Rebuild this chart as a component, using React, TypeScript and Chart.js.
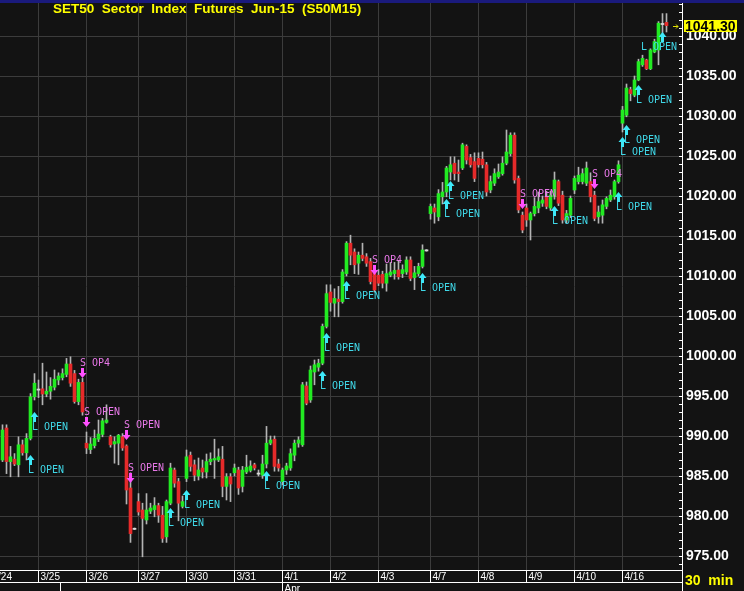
import React, { useEffect, useRef } from "react";
import { Chart, registerables } from "chart.js";
Chart.register(...registerables);

const opens = [
  987.0, 991.0, 986.8, 987.1, 986.4, 988.9, 987.9, 989.7, 994.9, 995.8,
  995.9, 995.25, 995.6, 996.1, 997.0, 997.3, 997.7, 999.0, 997.8, 994.3,
  996.7, 989.1, 988.3, 988.8, 989.6, 990.2, 991.7, 989.9, 989.0, 989.1,
  989.9, 988.75, 983.5, 978.4, 981.8, 980.75, 979.5, 980.6, 980.8, 981.3,
  980.1, 977.4, 981.6, 985.75, 984.3, 981.2, 984.7, 987.6, 986.4, 985.0,
  986.0, 985.5, 986.8, 987.0, 987.0, 987.1, 983.7, 984.9, 985.4, 985.75,
  983.7, 985.5, 985.7, 986.4, 985.3, 985.1, 986.5, 989.1, 989.6, 986.5,
  984.3, 985.75, 986.0, 987.6, 989.1, 988.9, 996.25, 994.5, 998.0, 998.6,
  999.1, 1003.7, 1008.0, 1006.6, 1007.1, 1006.8, 1010.3, 1014.1, 1013.0, 1011.6,
  1012.6, 1012.4, 1011.8, 1010.3, 1010.1, 1010.2, 1009.1, 1010.1, 1010.3, 1010.75,
  1010.3, 1010.5, 1012.0, 1009.8, 1010.3, 1011.2, 1013.2, 1017.8, 1018.5, 1017.4,
  1019.9, 1020.5, 1023.0, 1024.1, 1023.0, 1023.5, 1026.2, 1024.8, 1024.3, 1024.7,
  1024.6, 1023.9, 1020.75, 1021.6, 1022.4, 1022.8, 1024.1, 1025.3, 1027.6, 1022.2,
  1017.6, 1018.5, 1017.0, 1017.8, 1018.5, 1019.1, 1019.9, 1018.5, 1019.9, 1021.8,
  1020.1, 1017.0, 1017.6, 1020.75, 1021.8, 1021.8, 1021.6, 1021.8, 1020.1, 1017.4,
  1017.6, 1018.7, 1019.5, 1019.9, 1021.8, 1029.1, 1030.1, 1033.3, 1032.6, 1034.5,
  1036.4, 1037.0, 1035.9, 1038.0, 1038.25, 1041.5, 1041.7,
];
const highs = [
  991.4, 991.4, 988.7, 987.8, 989.9, 989.5, 990.3, 995.3, 997.8, 997.0,
  999.1, 998.0, 997.3, 998.25, 997.9, 998.4, 999.7, 999.9, 998.2, 997.1,
  997.2, 990.5, 989.8, 990.75, 992.0, 992.2, 993.9, 990.1, 989.9, 990.2,
  990.3, 988.9, 985.4, 978.5, 982.8, 981.6, 982.8, 981.6, 982.3, 981.6,
  981.2, 982.0, 986.6, 986.0, 984.7, 982.5, 988.25, 988.0, 987.0, 987.25,
  987.0, 987.75, 987.9, 989.6, 988.4, 988.7, 985.3, 985.3, 986.5, 986.1,
  986.2, 987.6, 986.9, 986.6, 985.75, 987.6, 991.2, 990.0, 990.0, 987.1,
  986.0, 986.6, 988.4, 989.5, 989.9, 996.7, 996.75, 998.75, 999.5, 999.6,
  1004.0, 1008.9, 1008.9, 1008.4, 1008.7, 1010.8, 1014.3, 1015.1, 1013.4, 1013.0,
  1014.1, 1012.8, 1012.2, 1010.8, 1010.8, 1010.6, 1011.5, 1011.7, 1011.7, 1011.9,
  1011.4, 1012.4, 1012.4, 1011.2, 1011.6, 1013.9, 1013.3, 1019.0, 1019.0, 1020.8,
  1021.7, 1023.7, 1024.9, 1024.9, 1024.5, 1026.6, 1026.4, 1025.2, 1025.4, 1025.4,
  1025.5, 1024.2, 1022.5, 1023.4, 1024.0, 1024.9, 1028.25, 1027.9, 1027.9, 1022.5,
  1018.0, 1019.0, 1018.0, 1019.8, 1020.5, 1020.0, 1020.6, 1020.6, 1023.0, 1022.0,
  1020.6, 1018.2, 1020.0, 1022.5, 1023.6, 1023.4, 1024.25, 1022.9, 1020.6, 1018.75,
  1019.5, 1019.9, 1020.75, 1022.0, 1024.4, 1031.2, 1034.0, 1033.6, 1035.0, 1037.1,
  1037.6, 1037.1, 1038.4, 1039.6, 1041.8, 1042.8, 1042.8,
];
const lows = [
  986.8, 985.3, 984.9, 986.3, 984.9, 987.6, 987.0, 989.5, 994.5, 994.8,
  993.9, 994.9, 994.6, 995.75, 996.4, 997.0, 997.4, 996.2, 994.1, 993.9,
  992.6, 987.8, 987.8, 988.5, 989.3, 989.9, 991.6, 988.6, 986.6, 986.4,
  988.2, 981.5, 976.7, 978.3, 980.1, 974.9, 979.0, 980.3, 979.9, 979.2,
  976.7, 976.7, 981.4, 983.6, 979.4, 981.0, 984.3, 985.6, 984.4, 984.5,
  984.75, 984.75, 986.4, 984.7, 986.8, 982.4, 982.0, 981.8, 985.0, 982.7,
  983.0, 985.3, 985.5, 985.75, 985.0, 984.7, 986.0, 988.9, 985.6, 985.6,
  983.9, 985.2, 985.7, 986.9, 988.6, 988.7, 993.9, 994.2, 996.4, 998.1,
  998.9, 1003.5, 1005.6, 1004.9, 1004.9, 1006.6, 1010.0, 1011.4, 1010.3, 1010.2,
  1011.9, 1011.2, 1009.0, 1008.0, 1008.8, 1008.5, 1008.1, 1009.9, 1009.6, 1009.6,
  1009.8, 1010.2, 1009.4, 1008.3, 1010.0, 1011.0, 1013.1, 1017.1, 1016.6, 1016.9,
  1019.0, 1019.9, 1022.0, 1022.0, 1021.8, 1023.3, 1024.0, 1023.6, 1021.8, 1023.6,
  1023.5, 1020.0, 1020.4, 1021.3, 1022.2, 1022.6, 1023.9, 1025.0, 1021.6, 1017.9,
  1015.4, 1016.2, 1014.5, 1017.5, 1017.9, 1018.7, 1018.4, 1018.2, 1019.6, 1018.8,
  1016.6, 1016.6, 1017.3, 1020.3, 1021.5, 1021.5, 1021.3, 1019.25, 1016.9, 1016.6,
  1016.6, 1018.4, 1019.3, 1019.6, 1021.6, 1028.0, 1029.9, 1031.9, 1032.4, 1034.4,
  1036.2, 1035.8, 1035.8, 1037.9, 1036.4, 1040.3, 1040.5,
];
const closes = [
  990.75, 986.8, 987.4, 986.5, 988.9, 987.9, 989.7, 994.9, 996.6, 995.8,
  995.25, 995.6, 996.2, 997.1, 997.5, 997.8, 999.0, 996.6, 994.3, 996.7,
  993.0, 988.5, 989.0, 989.7, 990.25, 991.9, 992.0, 988.9, 989.3, 990.1,
  988.5, 983.25, 977.8, 978.4, 980.5, 979.7, 980.75, 981.0, 981.3, 980.1,
  977.2, 981.8, 986.0, 984.1, 981.6, 981.8, 987.4, 986.2, 985.1, 985.75,
  985.5, 986.8, 987.1, 987.2, 987.4, 983.7, 984.9, 984.0, 986.0, 983.5,
  985.75, 986.1, 986.25, 986.0, 985.3, 986.5, 989.1, 989.5, 986.2, 986.0,
  985.75, 986.25, 987.8, 989.1, 989.5, 996.4, 994.1, 998.25, 998.9, 999.1,
  1003.7, 1007.8, 1006.7, 1007.2, 1006.8, 1010.5, 1014.1, 1012.6, 1011.4, 1012.6,
  1012.2, 1011.6, 1009.3, 1008.25, 1009.1, 1009.1, 1010.3, 1010.5, 1010.7, 1009.9,
  1010.8, 1012.0, 1009.7, 1010.4, 1011.2, 1013.25, 1013.2, 1018.7, 1018.0, 1020.3,
  1020.5, 1023.5, 1023.9, 1022.8, 1022.8, 1026.4, 1024.5, 1023.9, 1022.2, 1023.9,
  1023.9, 1020.5, 1021.8, 1022.8, 1023.0, 1024.1, 1025.5, 1027.6, 1022.0, 1018.25,
  1015.75, 1017.0, 1017.8, 1018.7, 1019.3, 1019.5, 1018.7, 1020.1, 1022.0, 1019.1,
  1017.0, 1017.8, 1019.7, 1022.2, 1022.6, 1022.8, 1023.5, 1019.9, 1017.2, 1018.0,
  1018.9, 1019.7, 1020.1, 1021.8, 1023.9, 1030.75, 1033.5, 1032.8, 1034.5, 1036.8,
  1037.2, 1035.9, 1038.25, 1039.3, 1041.6, 1041.5, 1041.3,
];

const dayLabels = ["3/24", "3/25", "3/26", "3/27", "3/30", "3/31", "4/1", "4/2", "4/3", "4/7", "4/8", "4/9", "4/10", "4/16"];
const dayStarts = [-3, 9, 21, 34, 46, 58, 70, 82, 94, 107, 119, 131, 143, 155];
const monthLabels = ["", "Apr"];
const monthStarts = [14.4, 70];

const annoIndex = [7, 8, 20, 21, 31, 32, 42, 46, 66, 80, 81, 86, 93, 105, 111, 112, 130, 138, 148, 154, 155, 156, 159, 165];
const annoPrice = [987.6, 993.0, 997.25, 991.1, 989.5, 984.1, 981.0, 983.25, 985.6, 998.1, 1002.9, 1009.4, 1010.1, 1010.4, 1019.6, 1021.9, 1018.4, 1018.75, 1020.9, 1020.5, 1027.4, 1028.9, 1033.9, 1040.5];
const annoText = ["L OPEN", "L OPEN", "S OP4", "S OPEN", "S OPEN", "S OPEN", "L OPEN", "L OPEN", "L OPEN", "L OPEN", "L OPEN", "L OPEN", "S OP4", "L OPEN", "L OPEN", "L OPEN", "S OPEN", "L OPEN", "S OP4", "L OPEN", "L OPEN", "L OPEN", "L OPEN", "L OPEN"];

const titleText = "SET50  Sector  Index  Futures  Jun-15  (S50M15)";
const periodText = "30  min";
const Y_MIN = 973.25;
const Y_MAX = 1044.125;
const X_MIN = -0.625;
const X_MAX = 169.875;

const BG = "#131313";
const GRID = "#3c3c3c";
const UP = "#22ea22";
const DOWN = "#e62a2a";
const WICK = "#b4b4b4";
const CYAN = "#3ee8f8";
const CYAN_TXT = "#40d8e8";
const MAG = "#ff50ff";
const MAG_TXT = "#e878e8";
const YEL = "#ffff00";

const overlay = {
  id: "overlay",
  beforeDraw(chart: any) {
    const ctx = chart.ctx;
    ctx.save();
    ctx.fillStyle = BG;
    ctx.fillRect(0, 0, chart.width, chart.height);
    ctx.restore();
  },
  beforeDatasetsDraw(chart: any) {
    const ctx = chart.ctx;
    const xs = chart.scales.x;
    const a = chart.chartArea;
    ctx.save();
    ctx.strokeStyle = GRID;
    ctx.lineWidth = 1;
    dayStarts.forEach((d) => {
      if (d < 0) return;
      const x = Math.floor(xs.getPixelForValue(d)) + 0.5;
      ctx.beginPath();
      ctx.moveTo(x, a.top);
      ctx.lineTo(x, a.bottom);
      ctx.stroke();
    });
    ctx.restore();
  },
  afterDraw(chart: any) {
    const ctx = chart.ctx;
    const xs = chart.scales.x;
    const ys = chart.scales.y;
    const a = chart.chartArea;
    const W = chart.width;
    const H = chart.height;
    ctx.save();

    ctx.fillStyle = "#1a1a7c";
    ctx.fillRect(0, 0, W, 3);

    ctx.strokeStyle = "#ffffff";
    ctx.lineWidth = 1;
    const ax = a.right + 0.5;
    ctx.beginPath();
    ctx.moveTo(ax, 3);
    ctx.lineTo(ax, H);
    ctx.stroke();
    for (let p = Math.ceil(Y_MIN); p <= Y_MAX; p += 1) {
      const y = Math.round(ys.getPixelForValue(p)) + 0.5;
      ctx.beginPath();
      ctx.moveTo(a.right - 3, y);
      ctx.lineTo(a.right, y);
      ctx.stroke();
    }

    const yTop = a.bottom + 0.5;
    const yMid = a.bottom + 12.5;
    ctx.beginPath();
    ctx.moveTo(0, yTop);
    ctx.lineTo(a.right, yTop);
    ctx.moveTo(0, yMid);
    ctx.lineTo(a.right, yMid);
    ctx.stroke();
    ctx.font = '10px "Liberation Sans", Arial, sans-serif';
    ctx.fillStyle = "#ffffff";
    ctx.textBaseline = "middle";
    ctx.textAlign = "left";
    dayStarts.forEach((d, i) => {
      const x = Math.floor(xs.getPixelForValue(d)) + 0.5;
      ctx.beginPath();
      ctx.moveTo(x, yTop);
      ctx.lineTo(x, yMid);
      ctx.stroke();
      ctx.fillText(dayLabels[i], x + 2, a.bottom + 7);
    });
    monthStarts.forEach((d, i) => {
      const x = Math.floor(xs.getPixelForValue(d)) + 0.5;
      ctx.beginPath();
      ctx.moveTo(x, yMid);
      ctx.lineTo(x, H);
      ctx.stroke();
      if (monthLabels[i]) ctx.fillText(monthLabels[i], x + 2, a.bottom + 19);
    });

    ctx.font = '10px "DejaVu Sans Mono", monospace';
    annoIndex.forEach((idx, i) => {
      const cx = xs.getPixelForValue(idx);
      const ty = Math.round(ys.getPixelForValue(annoPrice[i]));
      const isLong = annoText[i].startsWith("L");
      ctx.fillStyle = isLong ? CYAN : MAG;
      ctx.beginPath();
      if (isLong) {
        ctx.moveTo(cx, ty);
        ctx.lineTo(cx + 4, ty + 5);
        ctx.lineTo(cx - 4, ty + 5);
        ctx.closePath();
        ctx.fill();
        ctx.fillRect(cx - 1.5, ty + 5, 3, 5);
      } else {
        ctx.moveTo(cx, ty);
        ctx.lineTo(cx + 4, ty - 5);
        ctx.lineTo(cx - 4, ty - 5);
        ctx.closePath();
        ctx.fill();
        ctx.fillRect(cx - 1.5, ty - 10, 3, 5);
      }
      const w = ctx.measureText(annoText[i]).width;
      let tx = cx - 2.5;
      if (tx + w > a.right - 5) tx = a.right - 5 - w;
      ctx.fillStyle = isLong ? CYAN_TXT : MAG_TXT;
      ctx.fillText(annoText[i], tx, isLong ? ty + 15 : ty - 15);
    });

    ctx.font = 'bold 13.5px "Liberation Sans", Arial, sans-serif';
    ctx.fillStyle = YEL;
    ctx.fillText(titleText, 53, 9);

    ctx.font = 'bold 14px "Liberation Sans", Arial, sans-serif';
    ctx.fillText(periodText, a.right + 3, a.bottom + 11);

    const last = closes[closes.length - 1];
    const py = Math.round(ys.getPixelForValue(last));
    ctx.fillStyle = YEL;
    ctx.fillRect(a.right + 2, py - 6, 53, 12);
    ctx.fillStyle = "#000000";
    ctx.fillText(last.toFixed(2), a.right + 3, py + 1);
    ctx.strokeStyle = "#e0e000";
    ctx.beginPath();
    ctx.moveTo(a.right - 9, py + 0.5);
    ctx.lineTo(a.right - 4, py + 0.5);
    ctx.moveTo(a.right - 6, py - 1.5);
    ctx.lineTo(a.right - 4, py + 0.5);
    ctx.lineTo(a.right - 6, py + 2.5);
    ctx.stroke();

    ctx.restore();
  },
};

export default function App() {
  const ref = useRef<HTMLCanvasElement | null>(null);
  useEffect(() => {
    const canvas = ref.current;
    if (!canvas) return;
    const bodyData = opens.map((o, i) => {
      const c = closes[i];
      if (Math.abs(c - o) < 0.05) return { x: i, y: [o - 0.07, o + 0.07] };
      return { x: i, y: [o, c] };
    });
    const bodyColors = opens.map((o, i) => {
      const c = closes[i];
      if (Math.abs(c - o) < 0.05) return "#d8d8d8";
      return c > o ? UP : DOWN;
    });
    const wickData = lows.map((l, i) => ({ x: i, y: [l, highs[i]] }));
    const chart = new Chart(canvas, {
      type: "bar",
      data: {
        datasets: [
          {
            label: "body",
            data: bodyData as any,
            backgroundColor: bodyColors,
            barThickness: 3,
            grouped: false,
            order: 0,
            borderWidth: 0,
          } as any,
          {
            label: "wick",
            data: wickData as any,
            backgroundColor: WICK,
            barThickness: 1,
            grouped: false,
            order: 1,
            borderWidth: 0,
          } as any,
        ],
      },
      options: {
        animation: false,
        responsive: false,
        maintainAspectRatio: false,
        devicePixelRatio: 1,
        layout: { padding: { top: 3, left: 0, right: 0, bottom: 0 } },
        plugins: { legend: { display: false }, tooltip: { enabled: false }, title: { display: false } },
        events: [],
        scales: {
          x: {
            type: "linear",
            min: X_MIN,
            max: X_MAX,
            offset: false,
            bounds: "data",
            display: true,
            ticks: { display: false },
            grid: { display: false, offset: false },
            border: { display: false },
            afterFit: (s: any) => {
              s.height = 21;
              s.paddingLeft = 0;
              s.paddingRight = 0;
            },
          },
          y: {
            type: "linear",
            position: "right",
            min: Y_MIN,
            max: Y_MAX,
            ticks: {
              stepSize: 5,
              includeBounds: false,
              color: "#ffffff",
              padding: 4,
              font: { family: '"Liberation Sans", Arial, sans-serif', size: 14, weight: "bold" },
              callback: (v: any) => Number(v).toFixed(2),
            },
            grid: { color: GRID, lineWidth: 1, drawTicks: false },
            border: { display: false },
            afterFit: (s: any) => {
              s.width = 62;
              s.paddingTop = 0;
              s.paddingBottom = 0;
            },
          },
        },
      } as any,
      plugins: [overlay],
    });
    return () => chart.destroy();
  }, []);
  return (
    <div style={{ position: "fixed", left: 0, top: 0, width: 744, height: 591, background: BG }}>
      <canvas ref={ref} width={744} height={591} style={{ display: "block", width: 744, height: 591 }} />
    </div>
  );
}
